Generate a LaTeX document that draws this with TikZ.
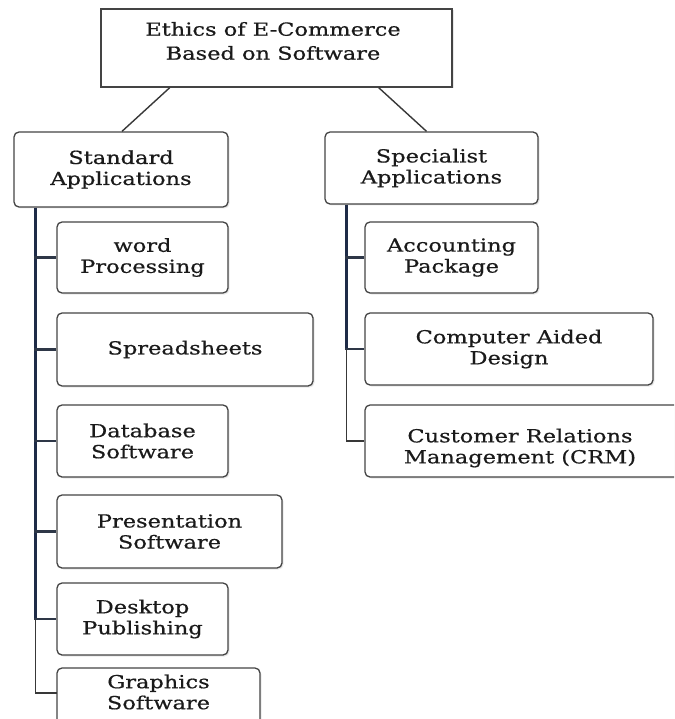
\documentclass[tikz,border=0pt]{standalone}
\usepackage{fontspec}
\setmainfont{DejaVu Serif}[FakeStretch=1.25,FakeBold=0.6]
\usetikzlibrary{shadows,calc}
\definecolor{boxgray}{HTML}{444444}
\definecolor{busnavy}{HTML}{1E2B47}
\definecolor{stubcol}{HTML}{2E3747}
\definecolor{thincol}{HTML}{383838}
\definecolor{txtcol}{HTML}{1A1A1A}
\tikzset{
  appbox/.style={draw=boxgray, line width=1.3pt, rounded corners=5pt, fill=white,
    align=center, inner sep=0pt, text=txtcol, font=\fontsize{18}{21}\selectfont,
    drop shadow={opacity=0.18, shadow xshift=1.5pt, shadow yshift=-1.5pt}},
  rootbox/.style={draw=boxgray, line width=1.3pt, fill=white, align=center, inner sep=0pt,
    text=txtcol, font=\fontsize{18}{24}\selectfont,
    drop shadow={opacity=0.18, shadow xshift=1.5pt, shadow yshift=-1.5pt}},
  plaintext/.style={align=center, inner sep=0pt, text=txtcol, font=\fontsize{18}{21}\selectfont},
  diag/.style={draw=thincol, line width=1.4pt},
  bus/.style={draw=busnavy, line width=3.4pt},
  stub/.style={draw=stubcol, line width=2.6pt},
  thinlink/.style={draw=thincol, line width=1.4pt},
}
\begin{document}
\begin{tikzpicture}[x=1pt,y=-1pt]
\useasboundingbox (0,0) rectangle (674,719);
\fill[white] (0,0) rectangle (674,719);
\clip (0,0) rectangle (674,719);
% root
\node[rootbox, minimum width=351pt, minimum height=78pt] (top) at (276.5,48) {};
\node[plaintext, font=\fontsize{18}{24}\selectfont] (toptext) at (273,41)
  {Ethics of E-Commerce\\Based on Software};
% level 1
\node[appbox, minimum width=214pt, minimum height=75pt] (std) at (121,169.5)
  {Standard\\Applications};
\node[appbox, minimum width=213pt, minimum height=72pt] (spec) at (431.5,168)
  {Specialist\\Applications};
% left children
\node[appbox, minimum width=171pt, minimum height=71pt] (word) at (142.5,257.5)
  {word\\Processing};
\node[appbox, minimum width=256pt, minimum height=73pt] (spread) at (185,349.5)
  {Spreadsheets};
\node[appbox, minimum width=171pt, minimum height=72pt] (db) at (142.5,441)
  {Database\\Software};
\node[appbox, minimum width=225pt, minimum height=73pt] (pres) at (169.5,531.5)
  {Presentation\\Software};
\node[appbox, minimum width=171pt, minimum height=72pt] (dtp) at (142.5,619)
  {Desktop\\Publishing};
\node[appbox, minimum width=203pt, minimum height=80pt] (gfx) at (158.5,708) {};
\node[plaintext] (gfxtext) at (158.5,692) {Graphics\\Software};
% right children
\node[appbox, minimum width=173pt, minimum height=71pt] (acc) at (451.5,257.5)
  {Accounting\\Package};
\node[appbox, minimum width=288pt, minimum height=72pt] (cad) at (509,349)
  {Computer Aided\\Design};
\node[appbox, minimum width=330pt, minimum height=72pt] (crm) at (530,441) {};
\node[plaintext] (crmtext) at (520,448) {Customer Relations\\Management (CRM)};
% root connectors
\draw[diag] ($(top.south west)!0.197!(top.south east)$) -- ([xshift=1pt]std.north);
\draw[diag] ($(top.south west)!0.79!(top.south east)$) -- ([xshift=-5pt]spec.north);
% left bus
\coordinate (lb) at ([xshift=22pt]std.south west);
\coordinate (gfxin) at (57,693);
\draw[thinlink] (dtp.west -| lb) -- (gfxin -| lb) -- (gfxin);
\draw[bus] (lb) -- (dtp.west -| lb);
\foreach \n in {word,spread,db,pres,dtp}{
  \draw[stub] ([xshift=-1pt]\n.west -| lb) -- (\n.west);
}
% right bus
\coordinate (rb) at ([xshift=22pt]spec.south west);
\draw[thinlink] (cad.west -| rb) -- (crm.west -| rb) -- (crm.west);
\draw[bus] (rb) -- (cad.west -| rb);
\foreach \n in {acc,cad}{
  \draw[stub] ([xshift=-1pt]\n.west -| rb) -- (\n.west);
}
\end{tikzpicture}
\end{document}
